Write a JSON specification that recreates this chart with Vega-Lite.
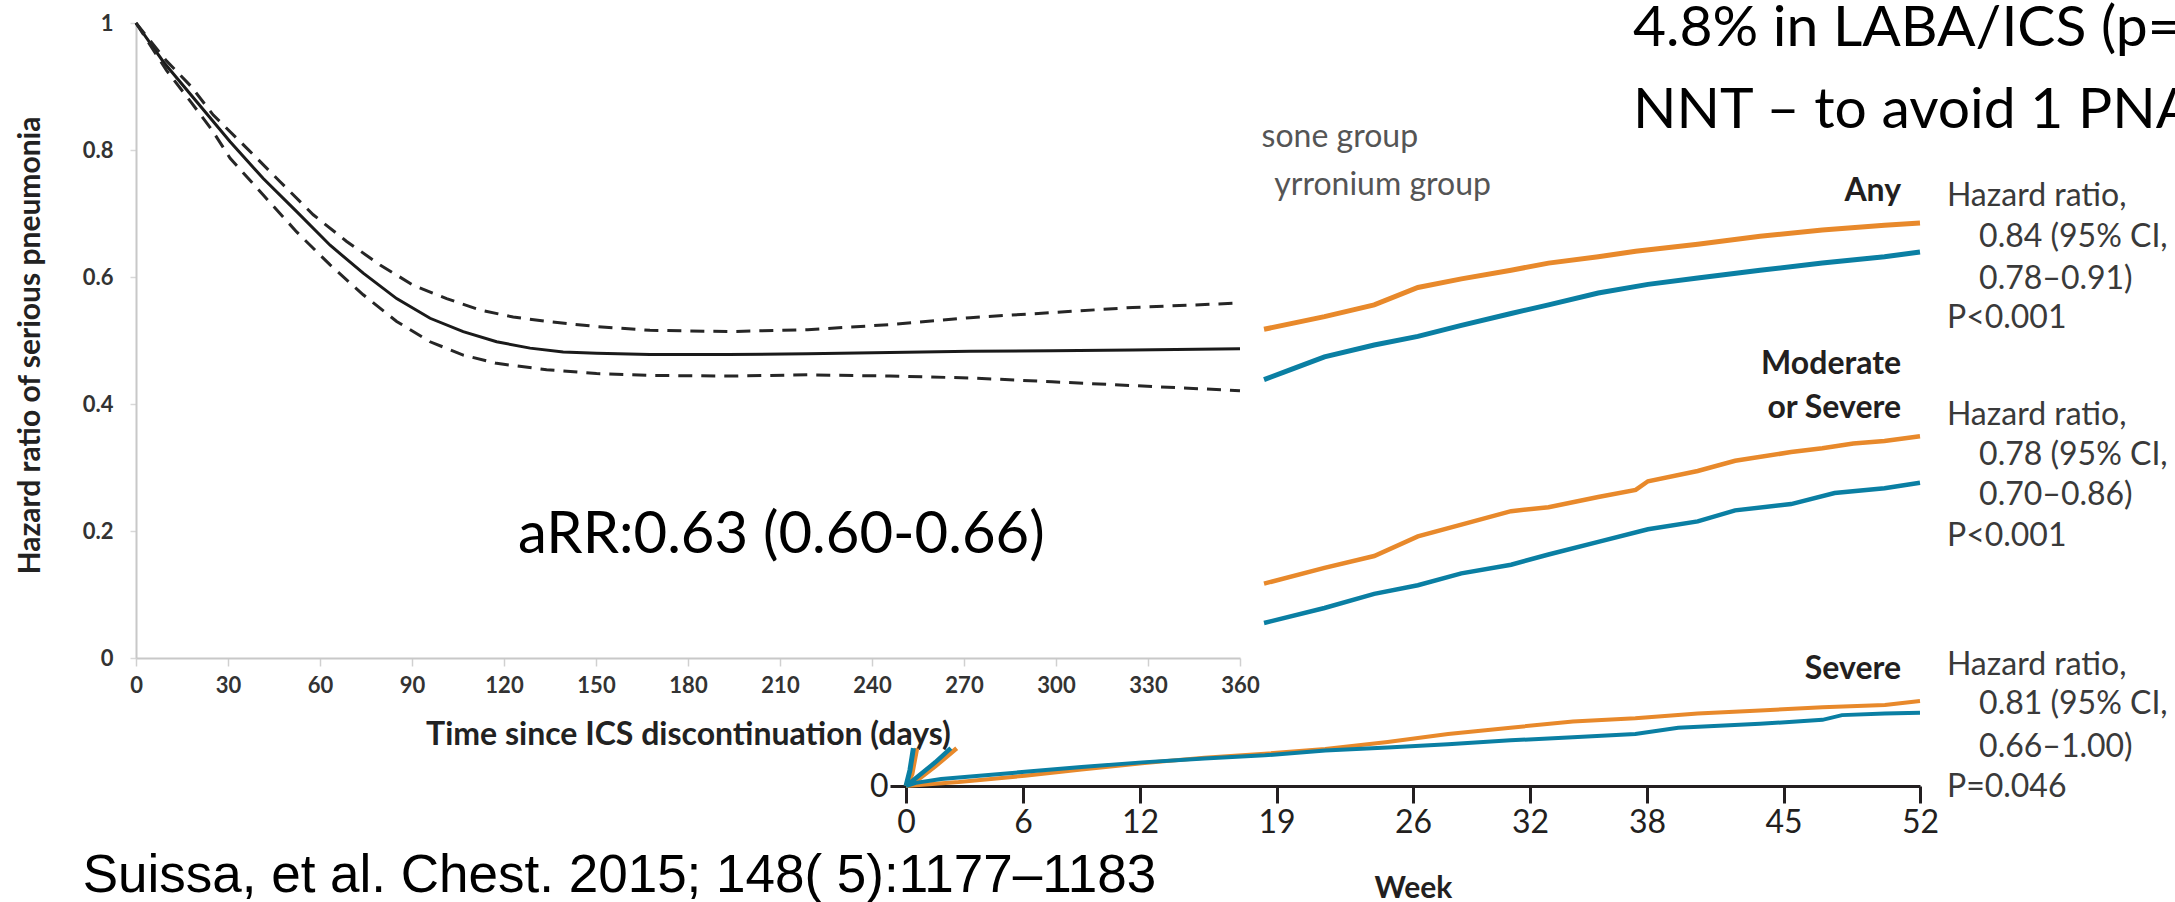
{
  "$schema": "https://vega.github.io/schema/vega-lite/v6.json",
  "width": 2175,
  "height": 902,
  "autosize": {"type": "none"},
  "padding": 0,
  "background": "white",
  "config": {"view": {"stroke": null}, "axis": {"grid": false}},
  "datasets": {
    "hr": [
      {"curve":"est","day":0,"hr":1.0},{"curve":"est","day":8.9,"hr":0.939},{"curve":"est","day":19.8,"hr":0.876},{"curve":"est","day":30.7,"hr":0.813},{"curve":"est","day":41.5,"hr":0.755},{"curve":"est","day":52.4,"hr":0.703},{"curve":"est","day":63.3,"hr":0.65},{"curve":"est","day":74.1,"hr":0.606},{"curve":"est","day":85,"hr":0.566},{"curve":"est","day":95.9,"hr":0.535},{"curve":"est","day":106.7,"hr":0.514},{"curve":"est","day":117.6,"hr":0.498},{"curve":"est","day":128.5,"hr":0.488},{"curve":"est","day":139.3,"hr":0.482},{"curve":"est","day":150.2,"hr":0.48},{"curve":"est","day":167.6,"hr":0.478},{"curve":"est","day":193,"hr":0.478},{"curve":"est","day":219,"hr":0.479},{"curve":"est","day":245.8,"hr":0.481},{"curve":"est","day":272,"hr":0.483},{"curve":"est","day":298.7,"hr":0.484},{"curve":"est","day":325,"hr":0.485},{"curve":"est","day":360,"hr":0.487},
      {"curve":"upper","day":0,"hr":1.0},{"curve":"upper","day":10,"hr":0.94},{"curve":"upper","day":18,"hr":0.9},{"curve":"upper","day":25.2,"hr":0.855},{"curve":"upper","day":36.1,"hr":0.803},{"curve":"upper","day":47,"hr":0.75},{"curve":"upper","day":57.8,"hr":0.698},{"curve":"upper","day":68.7,"hr":0.656},{"curve":"upper","day":79.6,"hr":0.619},{"curve":"upper","day":90.4,"hr":0.587},{"curve":"upper","day":101.3,"hr":0.566},{"curve":"upper","day":112.2,"hr":0.548},{"curve":"upper","day":123,"hr":0.537},{"curve":"upper","day":133.9,"hr":0.53},{"curve":"upper","day":150.2,"hr":0.522},{"curve":"upper","day":167.6,"hr":0.516},{"curve":"upper","day":193,"hr":0.514},{"curve":"upper","day":219,"hr":0.517},{"curve":"upper","day":245.8,"hr":0.525},{"curve":"upper","day":272,"hr":0.536},{"curve":"upper","day":298.7,"hr":0.544},{"curve":"upper","day":325,"hr":0.552},{"curve":"upper","day":360,"hr":0.559},
      {"curve":"lower","day":0,"hr":1.0},{"curve":"lower","day":10,"hr":0.925},{"curve":"lower","day":18,"hr":0.875},{"curve":"lower","day":25,"hr":0.83},{"curve":"lower","day":30.7,"hr":0.787},{"curve":"lower","day":41.5,"hr":0.729},{"curve":"lower","day":52.4,"hr":0.671},{"curve":"lower","day":63.3,"hr":0.619},{"curve":"lower","day":74.1,"hr":0.572},{"curve":"lower","day":85,"hr":0.53},{"curve":"lower","day":95.9,"hr":0.498},{"curve":"lower","day":106.7,"hr":0.477},{"curve":"lower","day":117.6,"hr":0.464},{"curve":"lower","day":133.9,"hr":0.454},{"curve":"lower","day":150.2,"hr":0.448},{"curve":"lower","day":167.6,"hr":0.445},{"curve":"lower","day":193,"hr":0.444},{"curve":"lower","day":219,"hr":0.446},{"curve":"lower","day":245.8,"hr":0.444},{"curve":"lower","day":272,"hr":0.441},{"curve":"lower","day":298.7,"hr":0.435},{"curve":"lower","day":325,"hr":0.429},{"curve":"lower","day":360,"hr":0.421}
    ],
    "leftText": [
      {"kind":"arr","day":124.6,"hr":0.165,"label":"aRR:0.63 (0.60-0.66)"},
      {"kind":"cite","day":-17.4,"hr":-0.369,"label":"Suissa, et al. Chest. 2015; 148( 5):1177–1183"}
    ],
    "km": [
      {"g":"Any","arm":"SFC","s":1,"week":0,"pct":0},{"g":"Any","arm":"SFC","s":1,"week":0.3,"pct":1.5},{"g":"Any","arm":"SFC","s":1,"week":0.55,"pct":4.8},
      {"g":"Any","arm":"SFC","s":2,"week":18.36,"pct":58.0},{"g":"Any","arm":"SFC","s":2,"week":21.46,"pct":59.6},{"g":"Any","arm":"SFC","s":2,"week":24.01,"pct":61.1},{"g":"Any","arm":"SFC","s":2,"week":26.25,"pct":63.3},{"g":"Any","arm":"SFC","s":2,"week":28.48,"pct":64.4},{"g":"Any","arm":"SFC","s":2,"week":31.03,"pct":65.5},{"g":"Any","arm":"SFC","s":2,"week":32.95,"pct":66.4},{"g":"Any","arm":"SFC","s":2,"week":35.5,"pct":67.2},{"g":"Any","arm":"SFC","s":2,"week":37.42,"pct":67.9},{"g":"Any","arm":"SFC","s":2,"week":40.6,"pct":68.8},{"g":"Any","arm":"SFC","s":2,"week":43.8,"pct":69.8},{"g":"Any","arm":"SFC","s":2,"week":46.99,"pct":70.6},{"g":"Any","arm":"SFC","s":2,"week":50.18,"pct":71.2},{"g":"Any","arm":"SFC","s":2,"week":52,"pct":71.5},
      {"g":"Any","arm":"IND","s":1,"week":0,"pct":0},{"g":"Any","arm":"IND","s":1,"week":0.2,"pct":2.0},{"g":"Any","arm":"IND","s":1,"week":0.38,"pct":4.8},
      {"g":"Any","arm":"IND","s":2,"week":18.36,"pct":51.6},{"g":"Any","arm":"IND","s":2,"week":19.86,"pct":53.0},{"g":"Any","arm":"IND","s":2,"week":21.46,"pct":54.5},{"g":"Any","arm":"IND","s":2,"week":24.01,"pct":56.0},{"g":"Any","arm":"IND","s":2,"week":26.25,"pct":57.1},{"g":"Any","arm":"IND","s":2,"week":28.48,"pct":58.5},{"g":"Any","arm":"IND","s":2,"week":31.03,"pct":60.0},{"g":"Any","arm":"IND","s":2,"week":32.95,"pct":61.1},{"g":"Any","arm":"IND","s":2,"week":35.5,"pct":62.6},{"g":"Any","arm":"IND","s":2,"week":38.05,"pct":63.7},{"g":"Any","arm":"IND","s":2,"week":40.6,"pct":64.5},{"g":"Any","arm":"IND","s":2,"week":43.8,"pct":65.5},{"g":"Any","arm":"IND","s":2,"week":46.99,"pct":66.4},{"g":"Any","arm":"IND","s":2,"week":50.18,"pct":67.2},{"g":"Any","arm":"IND","s":2,"week":52,"pct":67.8},
      {"g":"Moderate or Severe","arm":"SFC","s":1,"week":0,"pct":0},{"g":"Moderate or Severe","arm":"SFC","s":1,"week":0.5,"pct":0.6},{"g":"Moderate or Severe","arm":"SFC","s":1,"week":1.5,"pct":2.5},{"g":"Moderate or Severe","arm":"SFC","s":1,"week":2.6,"pct":4.8},
      {"g":"Moderate or Severe","arm":"SFC","s":2,"week":18.36,"pct":25.7},{"g":"Moderate or Severe","arm":"SFC","s":2,"week":21.46,"pct":27.7},{"g":"Moderate or Severe","arm":"SFC","s":2,"week":24.01,"pct":29.2},{"g":"Moderate or Severe","arm":"SFC","s":2,"week":26.25,"pct":31.7},{"g":"Moderate or Severe","arm":"SFC","s":2,"week":28.48,"pct":33.2},{"g":"Moderate or Severe","arm":"SFC","s":2,"week":31.03,"pct":34.9},{"g":"Moderate or Severe","arm":"SFC","s":2,"week":32.95,"pct":35.4},{"g":"Moderate or Severe","arm":"SFC","s":2,"week":35.5,"pct":36.7},{"g":"Moderate or Severe","arm":"SFC","s":2,"week":37.42,"pct":37.6},{"g":"Moderate or Severe","arm":"SFC","s":2,"week":38.05,"pct":38.7},{"g":"Moderate or Severe","arm":"SFC","s":2,"week":40.6,"pct":40.0},{"g":"Moderate or Severe","arm":"SFC","s":2,"week":42.52,"pct":41.3},{"g":"Moderate or Severe","arm":"SFC","s":2,"week":45.39,"pct":42.4},{"g":"Moderate or Severe","arm":"SFC","s":2,"week":46.99,"pct":42.9},{"g":"Moderate or Severe","arm":"SFC","s":2,"week":48.58,"pct":43.5},{"g":"Moderate or Severe","arm":"SFC","s":2,"week":50.18,"pct":43.8},{"g":"Moderate or Severe","arm":"SFC","s":2,"week":52,"pct":44.4},
      {"g":"Moderate or Severe","arm":"IND","s":1,"week":0,"pct":0},{"g":"Moderate or Severe","arm":"IND","s":1,"week":0.4,"pct":0.8},{"g":"Moderate or Severe","arm":"IND","s":1,"week":1.5,"pct":3.0},{"g":"Moderate or Severe","arm":"IND","s":1,"week":2.3,"pct":4.8},
      {"g":"Moderate or Severe","arm":"IND","s":2,"week":18.36,"pct":20.7},{"g":"Moderate or Severe","arm":"IND","s":2,"week":21.46,"pct":22.6},{"g":"Moderate or Severe","arm":"IND","s":2,"week":24.01,"pct":24.4},{"g":"Moderate or Severe","arm":"IND","s":2,"week":26.25,"pct":25.5},{"g":"Moderate or Severe","arm":"IND","s":2,"week":28.48,"pct":27.0},{"g":"Moderate or Severe","arm":"IND","s":2,"week":31.03,"pct":28.1},{"g":"Moderate or Severe","arm":"IND","s":2,"week":32.95,"pct":29.4},{"g":"Moderate or Severe","arm":"IND","s":2,"week":35.5,"pct":31.0},{"g":"Moderate or Severe","arm":"IND","s":2,"week":38.05,"pct":32.6},{"g":"Moderate or Severe","arm":"IND","s":2,"week":40.6,"pct":33.6},{"g":"Moderate or Severe","arm":"IND","s":2,"week":42.52,"pct":35.0},{"g":"Moderate or Severe","arm":"IND","s":2,"week":45.39,"pct":35.8},{"g":"Moderate or Severe","arm":"IND","s":2,"week":47.62,"pct":37.2},{"g":"Moderate or Severe","arm":"IND","s":2,"week":50.18,"pct":37.8},{"g":"Moderate or Severe","arm":"IND","s":2,"week":52,"pct":38.5},
      {"g":"Severe","arm":"SFC","s":1,"week":0,"pct":0},{"g":"Severe","arm":"SFC","s":1,"week":1,"pct":0.2},{"g":"Severe","arm":"SFC","s":1,"week":2.7,"pct":0.5},{"g":"Severe","arm":"SFC","s":1,"week":6.1,"pct":1.3},{"g":"Severe","arm":"SFC","s":1,"week":9,"pct":2.1},{"g":"Severe","arm":"SFC","s":1,"week":12.1,"pct":2.9},{"g":"Severe","arm":"SFC","s":1,"week":15.3,"pct":3.6},{"g":"Severe","arm":"SFC","s":1,"week":18.4,"pct":4.1},{"g":"Severe","arm":"SFC","s":1,"week":21.5,"pct":4.7},{"g":"Severe","arm":"SFC","s":1,"week":24.7,"pct":5.6},{"g":"Severe","arm":"SFC","s":1,"week":27.8,"pct":6.6},{"g":"Severe","arm":"SFC","s":1,"week":31,"pct":7.4},{"g":"Severe","arm":"SFC","s":1,"week":34.2,"pct":8.2},{"g":"Severe","arm":"SFC","s":1,"week":37.4,"pct":8.6},{"g":"Severe","arm":"SFC","s":1,"week":40.6,"pct":9.2},{"g":"Severe","arm":"SFC","s":1,"week":43.8,"pct":9.6},{"g":"Severe","arm":"SFC","s":1,"week":47,"pct":10.0},{"g":"Severe","arm":"SFC","s":1,"week":50.2,"pct":10.3},{"g":"Severe","arm":"SFC","s":1,"week":52,"pct":10.8},
      {"g":"Severe","arm":"IND","s":1,"week":0,"pct":0},{"g":"Severe","arm":"IND","s":1,"week":0.5,"pct":0.4},{"g":"Severe","arm":"IND","s":1,"week":1.8,"pct":0.9},{"g":"Severe","arm":"IND","s":1,"week":6.1,"pct":1.8},{"g":"Severe","arm":"IND","s":1,"week":9,"pct":2.4},{"g":"Severe","arm":"IND","s":1,"week":12.1,"pct":3.0},{"g":"Severe","arm":"IND","s":1,"week":15.3,"pct":3.5},{"g":"Severe","arm":"IND","s":1,"week":18.4,"pct":3.9},{"g":"Severe","arm":"IND","s":1,"week":21.5,"pct":4.5},{"g":"Severe","arm":"IND","s":1,"week":24.7,"pct":4.9},{"g":"Severe","arm":"IND","s":1,"week":27.8,"pct":5.3},{"g":"Severe","arm":"IND","s":1,"week":31,"pct":5.8},{"g":"Severe","arm":"IND","s":1,"week":34.2,"pct":6.2},{"g":"Severe","arm":"IND","s":1,"week":37.4,"pct":6.6},{"g":"Severe","arm":"IND","s":1,"week":39.6,"pct":7.4},{"g":"Severe","arm":"IND","s":1,"week":43.8,"pct":7.9},{"g":"Severe","arm":"IND","s":1,"week":47,"pct":8.4},{"g":"Severe","arm":"IND","s":1,"week":48,"pct":9.0},{"g":"Severe","arm":"IND","s":1,"week":50.2,"pct":9.2},{"g":"Severe","arm":"IND","s":1,"week":52,"pct":9.3}
    ],
    "rightText": [
      {"kind":"group","week":51.03,"pct":75.56,"label":"Any"},
      {"kind":"group","week":51.03,"pct":53.65,"label":"Moderate"},
      {"kind":"group","week":51.03,"pct":48.06,"label":"or Severe"},
      {"kind":"group","week":51.03,"pct":14.86,"label":"Severe"},
      {"kind":"hr","week":53.38,"pct":74.86,"label":"Hazard ratio,"},
      {"kind":"hr","week":55.03,"pct":69.69,"label":"0.84 (95% CI,"},
      {"kind":"hr","week":55.03,"pct":64.44,"label":"0.78–0.91)"},
      {"kind":"hr","week":53.38,"pct":59.40,"label":"P<0.001"},
      {"kind":"hr","week":53.38,"pct":47.17,"label":"Hazard ratio,"},
      {"kind":"hr","week":55.03,"pct":42.02,"label":"0.78 (95% CI,"},
      {"kind":"hr","week":55.03,"pct":36.89,"label":"0.70–0.86)"},
      {"kind":"hr","week":53.38,"pct":31.73,"label":"P<0.001"},
      {"kind":"hr","week":53.38,"pct":15.37,"label":"Hazard ratio,"},
      {"kind":"hr","week":55.03,"pct":10.35,"label":"0.81 (95% CI,"},
      {"kind":"hr","week":55.03,"pct":4.94,"label":"0.66–1.00)"},
      {"kind":"hr","week":53.38,"pct":-0.19,"label":"P=0.046"},
      {"kind":"legend","week":26.26,"pct":82.39,"label":"sone group"},
      {"kind":"legend","week":30.0,"pct":76.29,"label":"yrronium group"},
      {"kind":"title","week":37.28,"pct":93.97,"label":"4.8% in LABA/ICS (p="},
      {"kind":"title","week":37.28,"pct":83.56,"label":"NNT – to avoid 1 PNA"}
    ]
  },
  "layer": [
    {
      "encoding": {
        "x": {"field": "week", "type": "quantitative",
          "scale": {"domain": [0, 52], "range": [906, 1920], "nice": false, "zero": false},
          "axis": {"orient": "bottom", "offset": -116, "values": [0, 6, 12, 19, 26, 32, 38, 45, 52],
            "labelFlush": false, "labelOverlap": false,
            "domainColor": "#231f20", "domainWidth": 3, "tickColor": "#231f20", "tickWidth": 3, "tickSize": 17,
            "labelFont": "Lato", "labelFontSize": 32, "labelColor": "#231f20", "labelPadding": 4,
            "title": "Week", "titleFont": "Lato", "titleFontWeight": "bold", "titleFontSize": 30, "titleColor": "#231f20",
            "titleY": 111, "titleBaseline": "alphabetic"}},
        "y": {"field": "pct", "type": "quantitative",
          "scale": {"domain": [0, 100], "range": [786, -1.5], "nice": false, "zero": false},
          "axis": {"orient": "left", "offset": -906, "values": [0], "domain": false,
            "tickSize": 16, "tickWidth": 3, "tickColor": "#231f20",
            "labelFont": "Lato", "labelFontSize": 32, "labelColor": "#231f20", "labelPadding": 2, "title": null}}
      },
      "layer": [
        {
          "data": {"name": "km"},
          "mark": {"type": "line", "strokeCap": "butt"},
          "encoding": {
            "color": {"field": "arm", "type": "nominal", "scale": {"domain": ["SFC", "IND"], "range": ["#E8892B", "#0A7FA3"]}, "legend": null},
            "strokeWidth": {"field": "g", "type": "nominal", "scale": {"domain": ["Any", "Moderate or Severe", "Severe"], "range": [5, 4, 4]}, "legend": null},
            "detail": [{"field": "g"}, {"field": "s"}]
          }
        },
        {
          "data": {"values": [{}]},
          "mark": {"type": "rule", "color": "#231f20", "strokeWidth": 3},
          "encoding": {"x": {"datum": 0}, "y": {"datum": 0}, "y2": {"datum": 5.0}}
        },
        {
          "data": {"name": "rightText"},
          "transform": [{"filter": "datum.kind === 'group'"}],
          "mark": {"type": "text", "align": "right", "baseline": "middle", "font": "Lato", "fontWeight": "bold", "fontSize": 32, "color": "#231f20"},
          "encoding": {"text": {"field": "label"}}
        },
        {
          "data": {"name": "rightText"},
          "transform": [{"filter": "datum.kind === 'hr'"}],
          "mark": {"type": "text", "align": "left", "baseline": "middle", "font": "Lato", "fontSize": 32, "color": "#3a3a3a"},
          "encoding": {"text": {"field": "label"}}
        },
        {
          "data": {"name": "rightText"},
          "transform": [{"filter": "datum.kind === 'legend'"}],
          "mark": {"type": "text", "align": "right", "baseline": "middle", "font": "Lato", "fontSize": 32, "color": "#555555"},
          "encoding": {"text": {"field": "label"}}
        },
        {
          "data": {"name": "rightText"},
          "transform": [{"filter": "datum.kind === 'title'"}],
          "mark": {"type": "text", "align": "left", "baseline": "alphabetic", "font": "Lato", "fontSize": 57, "color": "#000000"},
          "encoding": {"text": {"field": "label"}}
        }
      ]
    },
    {
      "encoding": {
        "x": {"field": "day", "type": "quantitative",
          "scale": {"domain": [0, 360], "range": [136, 1240], "nice": false, "zero": false},
          "axis": {"orient": "bottom", "offset": -244, "values": [0, 30, 60, 90, 120, 150, 180, 210, 240, 270, 300, 330, 360],
            "labelFlush": false, "labelOverlap": false,
            "domainColor": "#c8c8c8", "domainWidth": 2, "tickColor": "#d0d0d0", "tickWidth": 1.5, "tickSize": 8,
            "labelFont": "Lato", "labelFontWeight": "bold", "labelFontSize": 22, "labelColor": "#333333", "labelPadding": 9,
            "title": "Time since ICS discontinuation (days)", "titleFont": "Lato", "titleFontWeight": "bold", "titleFontSize": 32,
            "titleColor": "#222222", "titleY": 86, "titleBaseline": "alphabetic"}},
        "y": {"field": "hr", "type": "quantitative",
          "scale": {"domain": [0, 1], "range": [658, 23], "nice": false, "zero": false},
          "axis": {"orient": "left", "offset": -136, "values": [0, 0.2, 0.4, 0.6, 0.8, 1], "format": "~g",
            "labelFlush": false, "labelOverlap": false,
            "domainColor": "#c8c8c8", "domainWidth": 2, "tickColor": "#d8d8d8", "tickWidth": 1.5, "tickSize": 6,
            "labelFont": "Lato", "labelFontWeight": "bold", "labelFontSize": 22, "labelColor": "#333333", "labelPadding": 17,
            "title": "Hazard ratio of serious pneumonia", "titleFont": "Lato", "titleFontWeight": "bold", "titleFontSize": 30,
            "titleColor": "#222222", "titleX": -106, "titleY": 345, "titleAngle": 270, "titleAlign": "center", "titleBaseline": "middle"}}
      },
      "layer": [
        {
          "data": {"name": "hr"},
          "transform": [{"filter": "datum.curve === 'est'"}],
          "mark": {"type": "line", "color": "#1a1a1a", "strokeWidth": 3}
        },
        {
          "data": {"name": "hr"},
          "transform": [{"filter": "datum.curve !== 'est'"}],
          "mark": {"type": "line", "color": "#262626", "strokeWidth": 3, "strokeDash": [14, 9]},
          "encoding": {"detail": {"field": "curve"}}
        },
        {
          "data": {"name": "leftText"},
          "transform": [{"filter": "datum.kind === 'arr'"}],
          "mark": {"type": "text", "align": "left", "baseline": "alphabetic", "font": "Lato", "fontSize": 58, "color": "#000000"},
          "encoding": {"text": {"field": "label"}}
        },
        {
          "data": {"name": "leftText"},
          "transform": [{"filter": "datum.kind === 'cite'"}],
          "mark": {"type": "text", "align": "left", "baseline": "alphabetic", "font": "Liberation Sans", "fontSize": 53, "color": "#000000"},
          "encoding": {"text": {"field": "label"}}
        }
      ]
    }
  ],
  "resolve": {"scale": {"x": "independent", "y": "independent", "color": "independent", "strokeWidth": "independent"}}
}
